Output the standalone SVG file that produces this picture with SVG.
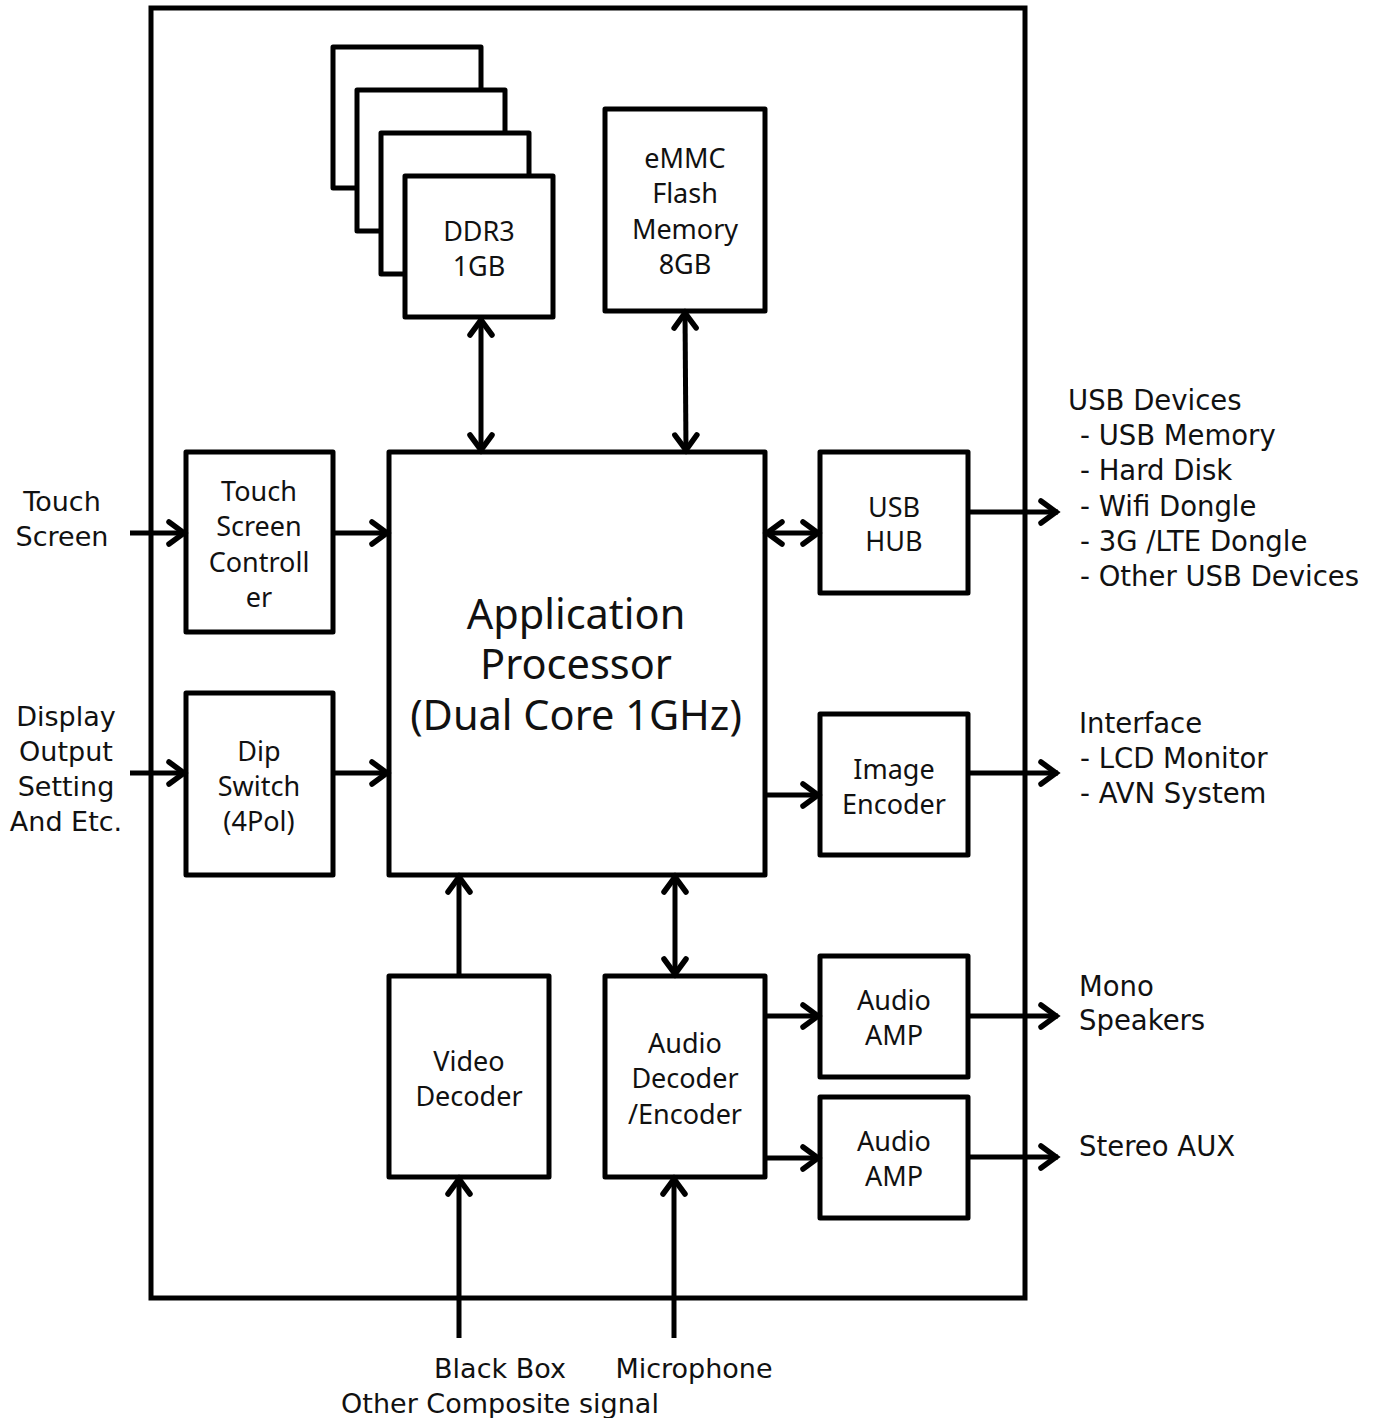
<svg xmlns="http://www.w3.org/2000/svg" width="1380" height="1418" viewBox="0 0 1380 1418">
<style>
.box{fill:#fff;stroke:#000;stroke-width:5;stroke-linejoin:round}
.frame{fill:none;stroke:#000;stroke-width:5}
.bt{font-family:"Noto Sans",sans-serif;font-size:27px;fill:#111;text-anchor:middle}
.big{font-family:"Noto Sans",sans-serif;font-size:41.5px;fill:#111;text-anchor:middle}
.lt{font-family:"DejaVu Sans",sans-serif;font-size:27.5px;fill:#111}
.ltc{font-family:"DejaVu Sans",sans-serif;font-size:27px;fill:#111;text-anchor:middle}
.ar{stroke:#000;stroke-width:5;fill:none;marker-end:url(#ah)}
.dar{stroke:#000;stroke-width:5;fill:none;marker-end:url(#ah);marker-start:url(#ah)}
</style>
<defs>
<marker id="ah" markerUnits="userSpaceOnUse" viewBox="-22 -14 26 28" markerWidth="26" markerHeight="28" refX="0" refY="0" orient="auto-start-reverse" overflow="visible">
<path d="M-17,-11 L-2,0 L-17,11" fill="none" stroke="#000" stroke-width="5.5" stroke-linecap="round" stroke-linejoin="miter"/>
</marker>
</defs>
<rect width="1380" height="1418" fill="#fff"/>
<rect id="frame" class="frame" x="151" y="8" width="874" height="1290"/>

<g id="ddr3">
<rect class="box" x="333" y="47" width="148" height="141"/>
<rect class="box" x="357" y="90" width="148" height="141"/>
<rect class="box" x="381" y="133" width="148" height="141"/>
<rect class="box" x="405" y="176" width="148" height="141"/>
<text class="bt" x="479" y="241">DDR3</text>
<text class="bt" x="479" y="276">1GB</text>
</g>
<g id="emmc">
<rect class="box" x="605" y="109" width="160" height="202"/>
<text class="bt" x="685" y="168">eMMC</text>
<text class="bt" x="685" y="203">Flash</text>
<text class="bt" x="685" y="239">Memory</text>
<text class="bt" x="685" y="274">8GB</text>
</g>
<g id="ap">
<rect class="box" x="389" y="452" width="376" height="423"/>
<text class="big" x="576" y="629">Application</text>
<text class="big" x="576" y="679">Processor</text>
<text class="big" x="576" y="730">(Dual Core 1GHz)</text>
</g>
<g id="tsc">
<rect class="box" x="186" y="452" width="147" height="180"/>
<text class="bt" x="259" y="501">Touch</text>
<text class="bt" x="259" y="536">Screen</text>
<text class="bt" x="259" y="572">Controll</text>
<text class="bt" x="259" y="607">er</text>
</g>
<g id="dip">
<rect class="box" x="186" y="693" width="147" height="182"/>
<text class="bt" x="259" y="761">Dip</text>
<text class="bt" x="259" y="796">Switch</text>
<text class="bt" x="259" y="831">(4Pol)</text>
</g>
<g id="usbhub">
<rect class="box" x="820" y="452" width="148" height="141"/>
<text class="bt" x="894" y="517">USB</text>
<text class="bt" x="894" y="551">HUB</text>
</g>
<g id="imgenc">
<rect class="box" x="820" y="714" width="148" height="141"/>
<text class="bt" x="894" y="779">Image</text>
<text class="bt" x="894" y="814">Encoder</text>
</g>
<g id="viddec">
<rect class="box" x="389" y="976" width="160" height="201"/>
<text class="bt" x="469" y="1071">Video</text>
<text class="bt" x="469" y="1106">Decoder</text>
</g>
<g id="auddec">
<rect class="box" x="605" y="976" width="160" height="201"/>
<text class="bt" x="685" y="1053">Audio</text>
<text class="bt" x="685" y="1088">Decoder</text>
<text class="bt" x="685" y="1124">/Encoder</text>
</g>
<g id="amp1">
<rect class="box" x="820" y="956" width="148" height="121"/>
<text class="bt" x="894" y="1010">Audio</text>
<text class="bt" x="894" y="1045">AMP</text>
</g>
<g id="amp2">
<rect class="box" x="820" y="1097" width="148" height="121"/>
<text class="bt" x="894" y="1151">Audio</text>
<text class="bt" x="894" y="1186">AMP</text>
</g>

<g id="connectors">
<line class="dar" x1="481" y1="318" x2="481" y2="452"/>
<line class="dar" x1="685" y1="311" x2="686" y2="452"/>
<line class="ar" x1="130" y1="533" x2="186" y2="533"/>
<line class="ar" x1="333" y1="533" x2="389" y2="533"/>
<line class="ar" x1="130" y1="773" x2="186" y2="773"/>
<line class="ar" x1="333" y1="773" x2="389" y2="773"/>
<line class="dar" x1="765" y1="533" x2="820" y2="533"/>
<line class="ar" x1="968" y1="512" x2="1058" y2="512"/>
<line class="ar" x1="765" y1="795" x2="820" y2="795"/>
<line class="ar" x1="968" y1="773" x2="1058" y2="773"/>
<line class="ar" x1="459" y1="976" x2="459" y2="875"/>
<line class="dar" x1="675" y1="875" x2="675" y2="976"/>
<line class="ar" x1="765" y1="1016" x2="820" y2="1016"/>
<line class="ar" x1="765" y1="1158" x2="820" y2="1158"/>
<line class="ar" x1="968" y1="1016" x2="1058" y2="1016"/>
<line class="ar" x1="968" y1="1157" x2="1058" y2="1157"/>
<line class="ar" x1="459" y1="1338" x2="459" y2="1177"/>
<line class="ar" x1="674" y1="1338" x2="674" y2="1177"/>
</g>

<g id="labels">
<text class="ltc" x="62" y="511">Touch</text>
<text class="ltc" x="62" y="546">Screen</text>
<text class="ltc" x="66" y="726">Display</text>
<text class="ltc" x="66" y="761">Output</text>
<text class="ltc" x="66" y="796">Setting</text>
<text class="ltc" x="66" y="831">And Etc.</text>
<text class="lt" x="1068" y="410">USB Devices</text>
<text class="lt" x="1080" y="445">- USB Memory</text>
<text class="lt" x="1080" y="480">- Hard Disk</text>
<text class="lt" x="1080" y="516">- Wifi Dongle</text>
<text class="lt" x="1080" y="551">- 3G /LTE Dongle</text>
<text class="lt" x="1080" y="586">- Other USB Devices</text>
<text class="lt" x="1079" y="733">Interface</text>
<text class="lt" x="1080" y="768">- LCD Monitor</text>
<text class="lt" x="1080" y="803">- AVN System</text>
<text class="lt" x="1079" y="996">Mono</text>
<text class="lt" x="1079" y="1030">Speakers</text>
<text class="lt" x="1079" y="1156">Stereo AUX</text>
<text class="ltc" x="500" y="1378">Black Box</text>
<text class="ltc" x="694" y="1378">Microphone</text>
<text class="ltc" x="500" y="1413">Other Composite signal</text>
</g>
</svg>
